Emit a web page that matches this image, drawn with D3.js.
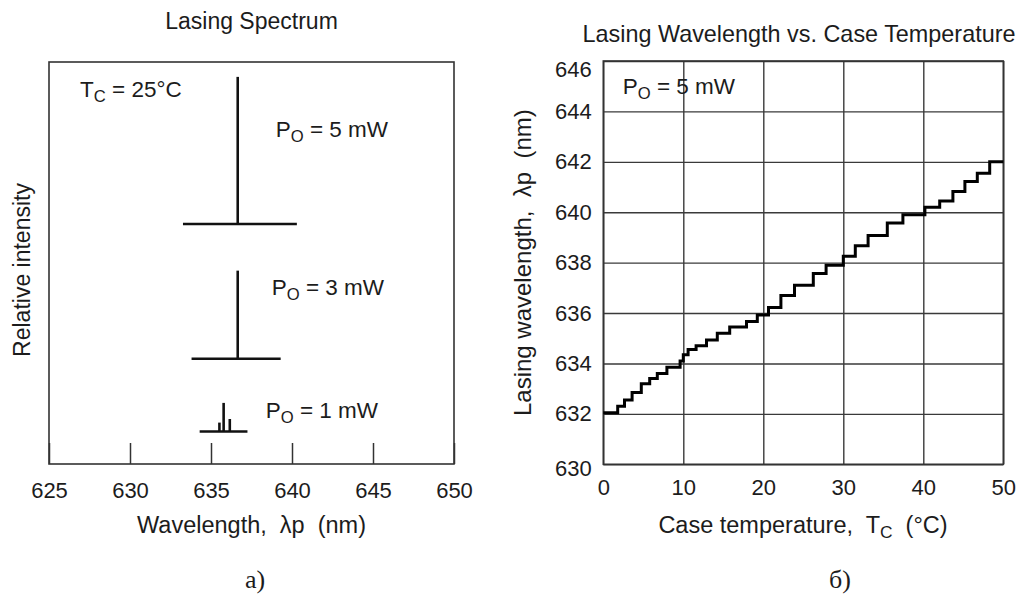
<!DOCTYPE html>
<html>
<head>
<meta charset="utf-8">
<script src="https://cdn.jsdelivr.net/npm/d3@7"></script>
<style>
  body { margin: 0; background: #fff; }
  svg text { font-family: "Liberation Sans", Arial, sans-serif; fill: #1c1c1c; }
  .cap { font-family: "Liberation Serif", "Times New Roman", serif !important; }
</style>
</head>
<body>
<script>
// a) lasing spectrum, Tc = 25C
var spectrumPowers = ["5", "3", "1"];
var spectrumBase = [59.7, 26.2, 8.1];          // relative intensity offset of each trace
var spectrumFrom = [633.27, 633.8, 634.3];     // nm, start of baseline
var spectrumTo = [640.3, 639.3, 637.25];       // nm, end of baseline
var peakWl = [[636.65], [636.65], [635.52, 635.78, 636.16]];
var peakHeight = [[36.6], [21.9], [2.2, 7.1, 3.1]];
var wlTicks = [625, 630, 635, 640, 645, 650];

// b) lasing wavelength vs case temperature, Po = 5 mW
var tempSteps = [0, 1.8, 2.65, 3.6, 4.75, 5.8, 6.75, 7.95, 9.6, 10.0,
  10.6, 11.6, 12.9, 14.25, 15.8, 17.9, 19.25, 20.65, 22.2, 23.9,
  26.25, 27.85, 30.0, 31.5, 33.1, 35.5, 37.45, 40.2, 42.05, 43.7,
  45.2, 46.75, 48.3, 50];
var wlSteps = [632.05, 632.3, 632.55, 632.85, 633.2, 633.4, 633.6, 633.85, 634.1, 634.35,
  634.55, 634.7, 634.93, 635.2, 635.45, 635.67, 635.92, 636.22, 636.7, 637.1,
  637.57, 637.9, 638.25, 638.67, 639.08, 639.57, 639.9, 640.2, 640.45, 640.82,
  641.22, 641.55, 642.0, 642.0];
var tempTicks = [0, 10, 20, 30, 40, 50];
var wlGridTicks = [630, 632, 634, 636, 638, 640, 642, 644, 646];

var W = 1024, H = 594;

var svg = d3.select("body").append("svg")
    .attr("width", W)
    .attr("height", H);

// ---------- left panel ----------
var left = {x0: 49, x1: 454, y0: 62, y1: 464};

var xSpec = d3.scaleLinear().domain([625, 650]).range([left.x0, left.x1]);
var ySpec = d3.scaleLinear().domain([0, 100]).range([left.y1, left.y0]);

svg.append("text")
    .attr("x", (left.x0 + left.x1) / 2)
    .attr("y", 29)
    .attr("text-anchor", "middle")
    .style("font-size", "23px")
    .text("Lasing Spectrum");

svg.append("rect")
    .attr("x", left.x0).attr("y", left.y0)
    .attr("width", left.x1 - left.x0).attr("height", left.y1 - left.y0)
    .attr("fill", "none").attr("stroke", "#333").attr("stroke-width", 1.6);

var specAxis = svg.append("g")
    .attr("transform", "translate(0," + left.y1 + ")")
    .call(d3.axisBottom(xSpec).tickValues(wlTicks).tickSize(-21).tickPadding(18));
specAxis.select(".domain").remove();
specAxis.selectAll(".tick line").attr("stroke", "#333").attr("stroke-width", 1.5);
specAxis.selectAll(".tick text")
    .style("font-size", "22px")
    .attr("fill", "#1c1c1c");

// spectra
spectrumPowers.forEach(function(p, i) {
  var g = svg.append("g");
  g.append("line")
      .attr("x1", xSpec(spectrumFrom[i])).attr("x2", xSpec(spectrumTo[i]))
      .attr("y1", ySpec(spectrumBase[i])).attr("y2", ySpec(spectrumBase[i]))
      .attr("stroke", "#111").attr("stroke-width", 2.6);
  peakWl[i].forEach(function(wl, j) {
    g.append("line")
        .attr("x1", xSpec(wl)).attr("x2", xSpec(wl))
        .attr("y1", ySpec(spectrumBase[i])).attr("y2", ySpec(spectrumBase[i] + peakHeight[i][j]))
        .attr("stroke", "#111").attr("stroke-width", 2.6);
  });
});

function subLabel(sel, x, y, main, sub, rest, size) {
  var t = sel.append("text")
      .attr("x", x).attr("y", y)
      .style("font-size", size + "px")
      .style("white-space", "pre");
  t.append("tspan").text(main);
  t.append("tspan").attr("dy", 5).style("font-size", (size * 0.74) + "px").text(sub);
  t.append("tspan").attr("dy", -5).text(rest);
  return t;
}

subLabel(svg, 80, 96.5, "T", "C", " = 25\u00B0C", 22.5);
var powerLabelX = [275.7, 271.7, 265.7];
var powerLabelY = [136.5, 295, 418.3];
spectrumPowers.forEach(function(p, i) {
  subLabel(svg, powerLabelX[i], powerLabelY[i], "P", "O", " = " + p + " mW", 22.5);
});

svg.append("text")
    .attr("x", (left.x0 + left.x1) / 2)
    .attr("y", 533)
    .attr("text-anchor", "middle")
    .style("font-size", "23.5px")
    .style("white-space", "pre")
    .text("Wavelength,  \u03BBp  (nm)");

svg.append("text")
    .attr("transform", "translate(30," + 270 + ") rotate(-90)")
    .attr("text-anchor", "middle")
    .style("font-size", "23px")
    .text("Relative intensity");

svg.append("text")
    .attr("class", "cap")
    .attr("x", 255).attr("y", 588)
    .attr("text-anchor", "middle")
    .style("font-size", "26px")
    .text("a)");

// ---------- right panel ----------
var right = {x0: 603.3, x1: 1003.3, y0: 61, y1: 464.3};

var xT = d3.scaleLinear().domain([0, 50]).range([right.x0, right.x1]);
var yL = d3.scaleLinear().domain([630, 646]).range([right.y1, right.y0]);

svg.append("text")
    .attr("x", 799)
    .attr("y", 42)
    .attr("text-anchor", "middle")
    .style("font-size", "23.4px")
    .text("Lasing Wavelength vs. Case Temperature");

var gx = svg.append("g")
    .attr("transform", "translate(0," + right.y1 + ")")
    .call(d3.axisBottom(xT).tickValues(tempTicks)
      .tickSize(-(right.y1 - right.y0)).tickPadding(15));
gx.select(".domain").remove();
gx.selectAll(".tick line").attr("stroke", "#3a3a3a").attr("stroke-width", 1.4);
gx.selectAll(".tick text").style("font-size", "22px").attr("fill", "#1c1c1c");

var gy = svg.append("g")
    .attr("transform", "translate(" + right.x0 + ",0)")
    .call(d3.axisLeft(yL).tickValues(wlGridTicks)
      .tickSize(-(right.x1 - right.x0)).tickPadding(11.5));
gy.select(".domain").remove();
gy.selectAll(".tick line").attr("stroke", "#3a3a3a").attr("stroke-width", 1.4);
gy.selectAll(".tick text")
    .style("font-size", "22px")
    .attr("fill", "#1c1c1c")
    .attr("dy", function(d) { return d === 646 ? "0.7em" : d === 630 ? "0.5em" : "0.32em"; });

svg.append("rect")
    .attr("x", right.x0).attr("y", right.y0)
    .attr("width", right.x1 - right.x0).attr("height", right.y1 - right.y0)
    .attr("fill", "none").attr("stroke", "#333").attr("stroke-width", 1.6);

var stepData = tempSteps.map(function(t, i) { return [t, wlSteps[i]]; });
var stepLine = d3.line()
    .x(function(d) { return xT(d[0]); })
    .y(function(d) { return yL(d[1]); })
    .curve(d3.curveStepAfter);

svg.append("path")
    .datum(stepData)
    .attr("d", stepLine)
    .attr("fill", "none")
    .attr("stroke", "#000")
    .attr("stroke-width", 3);

subLabel(svg, 622.7, 94.3, "P", "O", " = 5 mW", 22.5);

svg.append("text")
    .attr("x", 803)
    .attr("y", 533)
    .attr("text-anchor", "middle")
    .style("font-size", "23.5px")
    .style("white-space", "pre")
    .each(function() {
      var t = d3.select(this);
      t.append("tspan").text("Case temperature,  T");
      t.append("tspan").attr("dy", 5).style("font-size", "17.4px").text("C");
      t.append("tspan").attr("dy", -5).text("  (\u00B0C)");
    });

svg.append("text")
    .attr("transform", "translate(531," + ((right.y0 + right.y1) / 2) + ") rotate(-90)")
    .attr("text-anchor", "middle")
    .style("font-size", "24px")
    .style("white-space", "pre")
    .text("Lasing wavelength,  \u03BBp  (nm)");

svg.append("text")
    .attr("class", "cap")
    .attr("x", 840).attr("y", 588)
    .attr("text-anchor", "middle")
    .style("font-size", "26px")
    .text("\u0431)");
</script>
</body>
</html>
